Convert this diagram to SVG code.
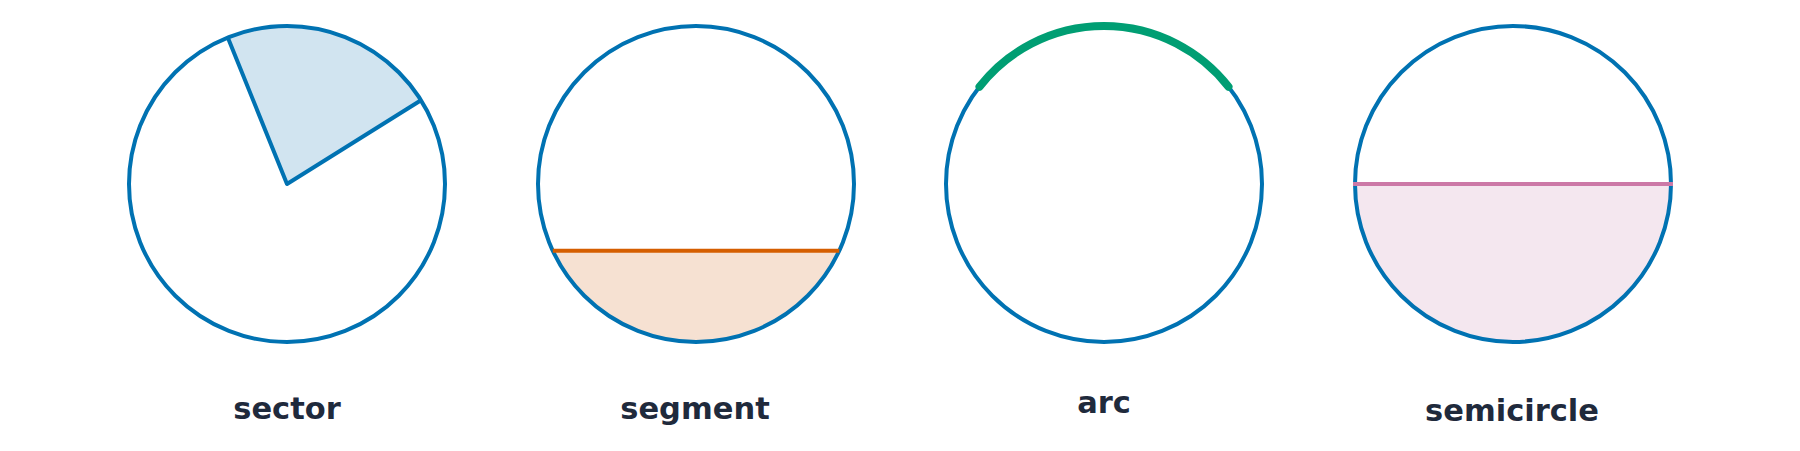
<svg xmlns="http://www.w3.org/2000/svg" width="1800" height="451" viewBox="0 0 1800 451">
  <style>
    .circ { fill: none; stroke: #0072B2; stroke-width: 4; }
    .lbl { font-family: "DejaVu Sans", "Liberation Sans", sans-serif; font-weight: bold; font-size: 30.5px; fill: #1f2a3c; text-anchor: middle; }
  </style>
  <rect width="1800" height="451" fill="#ffffff"/>
  <g id="sector">
    <path d="M287,184 L421,100.3 A158,158 0 0 0 227.8,37.5 Z" fill="#d1e4f0" stroke="none"/>
    <circle class="circ" cx="287" cy="184" r="158"/>
    <path d="M421,100.3 L287,184 L227.8,37.5" fill="none" stroke="#0072B2" stroke-width="4" stroke-linejoin="round"/>
    <text class="lbl" x="287" y="419">sector</text>
  </g>
  <g id="segment">
    <path d="M552.8,250.8 A158,158 0 0 0 839.2,250.8 Z" fill="#f6e1d2" stroke="none"/>
    <circle class="circ" cx="696" cy="184" r="158"/>
    <line x1="552.8" y1="250.8" x2="839.2" y2="250.8" stroke="#D55E00" stroke-width="4"/>
    <text class="lbl" x="695" y="419">segment</text>
  </g>
  <g id="arc">
    <circle class="circ" cx="1104" cy="184" r="158"/>
    <path d="M979.5,86.7 A158,158 0 0 1 1228.5,86.7" fill="none" stroke="#009E73" stroke-width="8" stroke-linecap="round"/>
    <text class="lbl" x="1104" y="413">arc</text>
  </g>
  <g id="semicircle">
    <path d="M1355,184 A158,158 0 0 0 1671,184 Z" fill="#f4e7ef" stroke="none"/>
    <circle class="circ" cx="1513" cy="184" r="158"/>
    <line x1="1353" y1="184" x2="1673" y2="184" stroke="#CC79A7" stroke-width="4"/>
    <text class="lbl" x="1512" y="421">semicircle</text>
  </g>
</svg>
